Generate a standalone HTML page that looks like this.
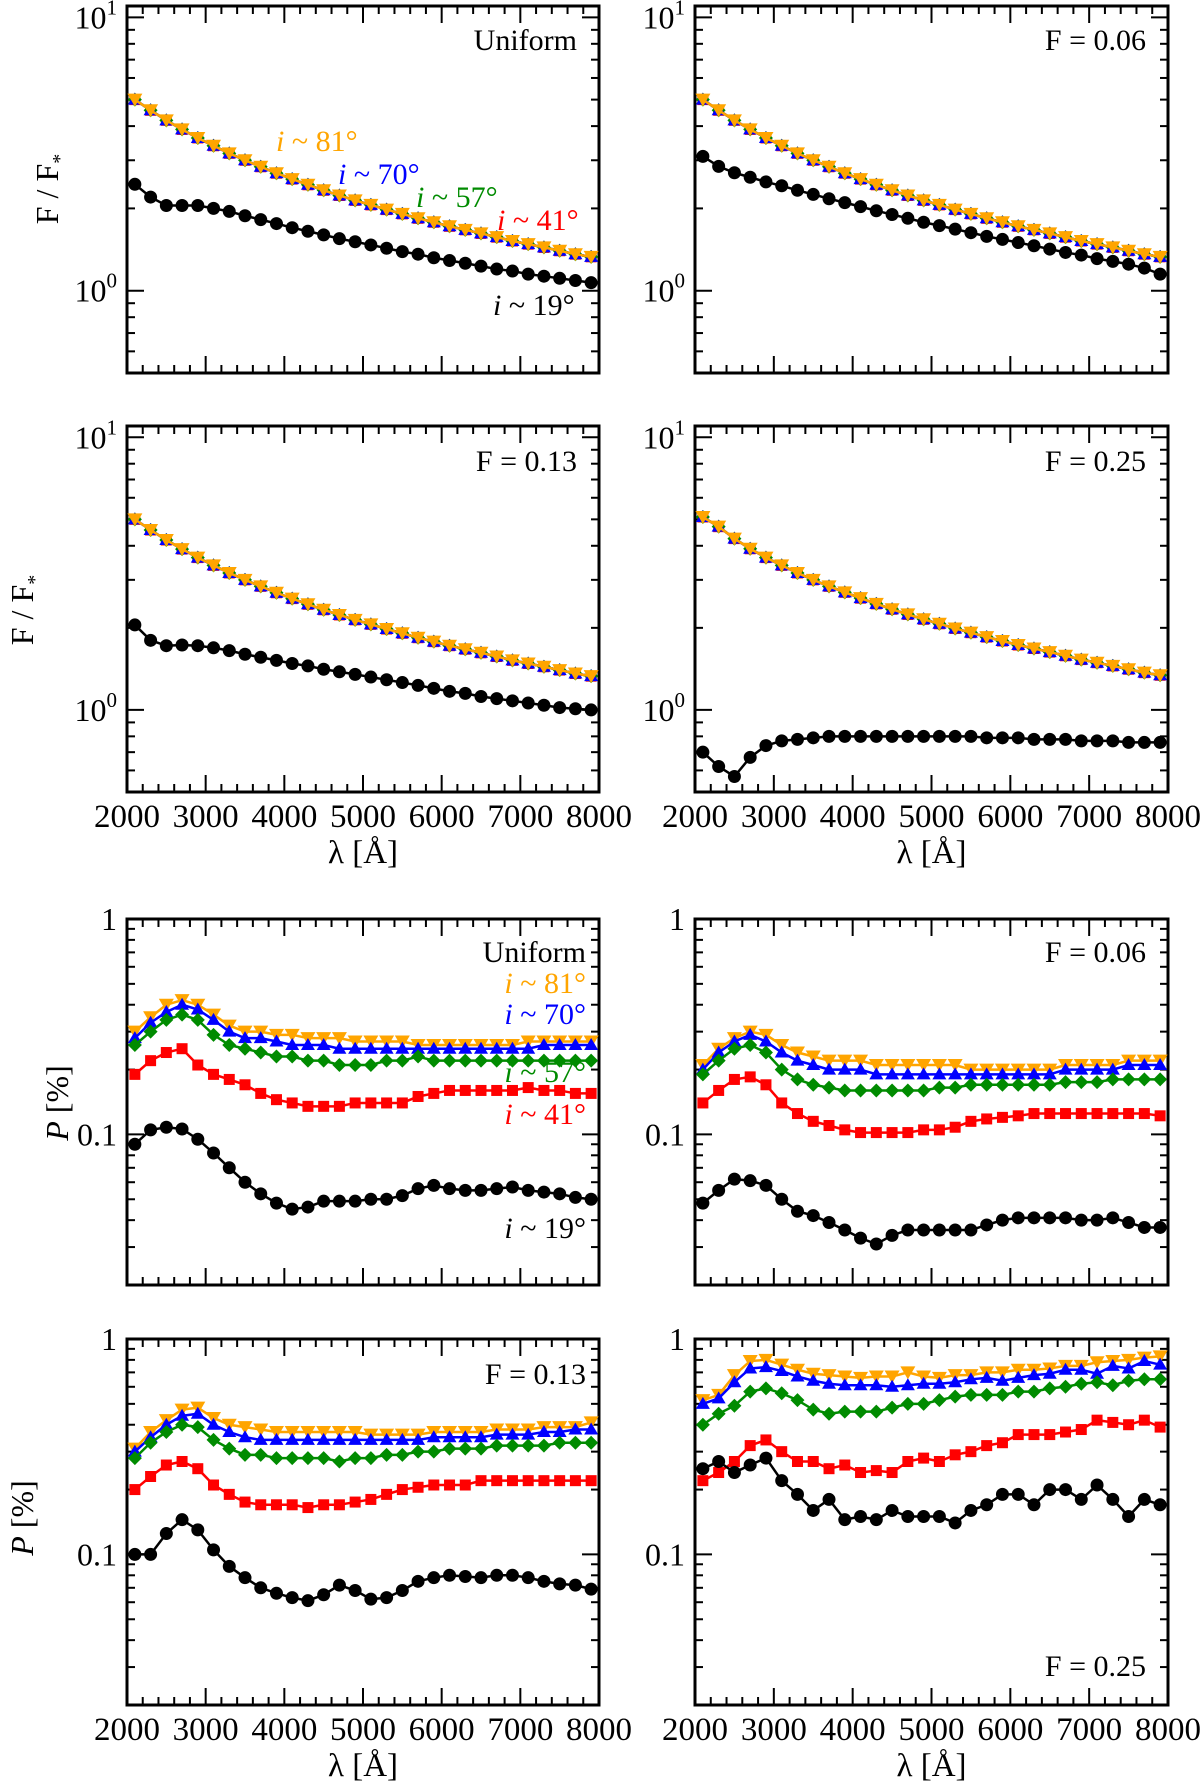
<!DOCTYPE html>
<html><head><meta charset="utf-8"><style>
html,body{margin:0;padding:0;background:#fff}
svg{display:block}
svg text{font-family:"Liberation Serif","Times New Roman",serif;}
</style></head><body>
<svg id="fig" width="1200" height="1786" viewBox="0 0 1200 1786" font-family="Liberation Serif, Times New Roman, serif" xmlns="http://www.w3.org/2000/svg"></svg>
<script>
const wavelengths=[2100,2300,2500,2700,2900,3100,3300,3500,3700,3900,4100,4300,4500,4700,4900,5100,5300,5500,5700,5900,6100,6300,6500,6700,6900,7100,7300,7500,7700,7900];
const xTicks=[2000,3000,4000,5000,6000,7000,8000];
const fluxBase=[5.0,4.57,4.2,3.89,3.62,3.39,3.18,3.0,2.84,2.69,2.56,2.44,2.33,2.23,2.14,2.06,1.98,1.91,1.84,1.78,1.72,1.67,1.62,1.57,1.52,1.48,1.44,1.40,1.36,1.33];
const fluxBase25=[5.1,4.7,4.25,3.9,3.62,3.39,3.18,3.0,2.84,2.7,2.57,2.45,2.34,2.24,2.15,2.07,1.99,1.92,1.85,1.79,1.73,1.68,1.63,1.58,1.53,1.49,1.45,1.41,1.37,1.34];
const fluxUniBlack=[2.45,2.2,2.05,2.05,2.05,2.0,1.95,1.88,1.82,1.76,1.70,1.65,1.60,1.55,1.51,1.47,1.43,1.39,1.36,1.32,1.29,1.26,1.23,1.20,1.18,1.15,1.13,1.11,1.09,1.07];
const flux06Black=[3.1,2.85,2.7,2.6,2.5,2.42,2.33,2.25,2.17,2.1,2.03,1.96,1.9,1.84,1.78,1.73,1.68,1.63,1.58,1.54,1.5,1.46,1.42,1.38,1.35,1.31,1.28,1.25,1.21,1.15];
const flux13Black=[2.05,1.8,1.72,1.73,1.72,1.69,1.65,1.6,1.56,1.52,1.48,1.45,1.41,1.38,1.35,1.32,1.29,1.26,1.23,1.2,1.17,1.15,1.12,1.10,1.08,1.06,1.04,1.02,1.01,1.0];
const flux25Black=[0.7,0.62,0.57,0.67,0.74,0.77,0.78,0.79,0.8,0.8,0.8,0.8,0.8,0.8,0.8,0.8,0.8,0.8,0.79,0.79,0.79,0.78,0.78,0.78,0.77,0.77,0.77,0.76,0.76,0.76];

const polUniOrange=[0.30,0.35,0.40,0.42,0.40,0.36,0.32,0.30,0.30,0.29,0.29,0.28,0.28,0.28,0.27,0.27,0.27,0.27,0.26,0.26,0.26,0.26,0.26,0.26,0.26,0.27,0.27,0.27,0.27,0.27];
const polUniBlue=[0.28,0.33,0.37,0.40,0.38,0.34,0.30,0.28,0.28,0.27,0.26,0.26,0.26,0.25,0.25,0.25,0.25,0.25,0.25,0.25,0.25,0.25,0.25,0.25,0.25,0.25,0.26,0.26,0.26,0.26];
const polUniGreen=[0.26,0.30,0.34,0.36,0.34,0.29,0.26,0.25,0.24,0.23,0.23,0.22,0.22,0.21,0.21,0.21,0.22,0.22,0.23,0.22,0.22,0.22,0.22,0.22,0.22,0.22,0.22,0.22,0.22,0.22];
const polUniRed=[0.19,0.22,0.24,0.25,0.21,0.19,0.18,0.17,0.155,0.145,0.14,0.135,0.135,0.135,0.14,0.14,0.14,0.14,0.15,0.155,0.16,0.16,0.16,0.16,0.16,0.165,0.16,0.16,0.155,0.155];
const polUniBlack=[0.09,0.105,0.108,0.106,0.095,0.082,0.07,0.06,0.053,0.048,0.045,0.046,0.049,0.049,0.049,0.05,0.05,0.052,0.056,0.058,0.056,0.055,0.055,0.056,0.057,0.055,0.054,0.053,0.051,0.05];

const pol06Orange=[0.21,0.25,0.28,0.30,0.29,0.26,0.24,0.23,0.22,0.22,0.22,0.21,0.21,0.21,0.21,0.21,0.21,0.20,0.20,0.20,0.20,0.20,0.20,0.21,0.21,0.21,0.21,0.22,0.22,0.22];
const pol06Blue=[0.20,0.24,0.27,0.29,0.27,0.24,0.22,0.21,0.20,0.20,0.20,0.19,0.19,0.19,0.19,0.19,0.19,0.19,0.19,0.19,0.19,0.19,0.19,0.20,0.20,0.20,0.20,0.21,0.21,0.21];
const pol06Green=[0.19,0.22,0.25,0.26,0.24,0.20,0.18,0.17,0.165,0.16,0.16,0.16,0.16,0.16,0.16,0.165,0.165,0.17,0.17,0.17,0.17,0.17,0.17,0.175,0.175,0.175,0.18,0.18,0.18,0.18];
const pol06Red=[0.14,0.16,0.18,0.185,0.17,0.14,0.125,0.115,0.11,0.105,0.102,0.102,0.102,0.102,0.105,0.105,0.108,0.115,0.118,0.12,0.122,0.125,0.125,0.125,0.125,0.125,0.125,0.125,0.125,0.122];
const pol06Black=[0.048,0.055,0.062,0.061,0.058,0.05,0.044,0.042,0.039,0.036,0.033,0.031,0.034,0.036,0.036,0.036,0.036,0.036,0.038,0.04,0.041,0.041,0.041,0.041,0.04,0.04,0.041,0.039,0.037,0.037];

const pol13Orange=[0.31,0.37,0.42,0.47,0.48,0.43,0.40,0.39,0.38,0.37,0.37,0.37,0.37,0.37,0.37,0.36,0.36,0.36,0.36,0.37,0.37,0.37,0.37,0.38,0.38,0.38,0.39,0.39,0.39,0.41];
const pol13Blue=[0.30,0.35,0.40,0.44,0.45,0.40,0.37,0.35,0.34,0.34,0.34,0.34,0.34,0.34,0.34,0.34,0.34,0.34,0.34,0.35,0.35,0.35,0.35,0.36,0.36,0.36,0.37,0.37,0.38,0.38];
const pol13Green=[0.28,0.33,0.37,0.40,0.39,0.34,0.31,0.29,0.29,0.28,0.28,0.28,0.28,0.27,0.28,0.28,0.29,0.29,0.30,0.30,0.31,0.31,0.31,0.32,0.32,0.32,0.32,0.33,0.33,0.33];
const pol13Red=[0.20,0.23,0.26,0.27,0.25,0.21,0.19,0.175,0.17,0.17,0.17,0.165,0.17,0.17,0.175,0.18,0.19,0.20,0.205,0.21,0.21,0.21,0.22,0.22,0.22,0.22,0.22,0.22,0.22,0.22];
const pol13Black=[0.10,0.10,0.125,0.145,0.13,0.105,0.088,0.078,0.07,0.066,0.063,0.061,0.065,0.072,0.068,0.062,0.063,0.068,0.075,0.078,0.08,0.079,0.078,0.08,0.08,0.078,0.075,0.073,0.072,0.069];

const pol25Orange=[0.52,0.55,0.68,0.79,0.80,0.76,0.72,0.69,0.68,0.67,0.66,0.67,0.67,0.70,0.67,0.66,0.68,0.68,0.70,0.70,0.72,0.72,0.73,0.75,0.75,0.78,0.79,0.80,0.82,0.83];
const pol25Blue=[0.50,0.53,0.63,0.73,0.74,0.71,0.67,0.64,0.62,0.61,0.61,0.61,0.60,0.61,0.62,0.62,0.63,0.65,0.66,0.64,0.66,0.68,0.69,0.72,0.72,0.69,0.75,0.73,0.79,0.76];
const pol25Green=[0.40,0.45,0.49,0.57,0.59,0.56,0.52,0.47,0.45,0.46,0.46,0.46,0.48,0.50,0.50,0.52,0.54,0.55,0.55,0.55,0.57,0.57,0.59,0.60,0.62,0.63,0.61,0.64,0.65,0.65];
const pol25Red=[0.22,0.24,0.27,0.32,0.34,0.30,0.27,0.27,0.25,0.26,0.24,0.245,0.24,0.27,0.28,0.27,0.29,0.30,0.32,0.33,0.36,0.36,0.36,0.37,0.38,0.42,0.41,0.40,0.42,0.39];
const pol25Black=[0.25,0.27,0.24,0.26,0.28,0.22,0.19,0.16,0.18,0.145,0.15,0.145,0.16,0.15,0.15,0.15,0.14,0.16,0.17,0.19,0.19,0.17,0.20,0.20,0.18,0.21,0.18,0.15,0.18,0.17];

const NS="http://www.w3.org/2000/svg";
const svg=document.getElementById('fig');
function el(tag,attrs,parent){const e=document.createElementNS(NS,tag);for(const k in attrs)e.setAttribute(k,attrs[k]);(parent||svg).appendChild(e);return e;}
const COL={orange:'#ffa500',blue:'#0000ff',green:'#008b00',red:'#ff0000',black:'#000000'};

function panel(o){
  const g=el('g',{});
  
  
  const L=o.x0,R=o.x1,T=o.y0,B=o.y1;
  const lmin=Math.log10(o.ymin),lmax=Math.log10(o.ymax);
  const X=v=>L+(v-2000)/6000*(R-L);
  const Y=v=>B-(Math.log10(v)-lmin)/(lmax-lmin)*(B-T);
  for(let v=2000;v<=8000;v+=200){
    const major=v%1000===0;const len=major?17:8;
    el('line',{x1:X(v),x2:X(v),y1:B,y2:B-len,stroke:'#000','stroke-width':2},g);
    el('line',{x1:X(v),x2:X(v),y1:T,y2:T+len,stroke:'#000','stroke-width':2},g);
  }
  for(let d=Math.floor(lmin);d<=Math.ceil(lmax);d++){
    for(let m=1;m<=9;m++){
      const v=m*Math.pow(10,d);
      if(v<o.ymin*0.999||v>o.ymax*1.001)continue;
      const len=m===1?17:8;
      el('line',{x1:L,x2:L+len,y1:Y(v),y2:Y(v),stroke:'#000','stroke-width':2},g);
      el('line',{x1:R,x2:R-len,y1:Y(v),y2:Y(v),stroke:'#000','stroke-width':2},g);
    }
  }
  el('rect',{x:L,y:T,width:R-L,height:B-T,fill:'none',stroke:'#000','stroke-width':3},g);
  o.yLabels.forEach(t=>{
    const tx=el('text',{x:L-10,y:Y(t.v)+11,'text-anchor':'end','font-size':32},g);
    
    
    if(t.sup!==undefined){tx.textContent='10';const s=el('tspan',{dy:-14,'font-size':21},tx);s.textContent=t.sup;}
    else tx.textContent=t.text;
  });
  if(o.showX){
    xTicks.forEach(v=>{
      const tx=el('text',{x:X(v),y:B+35,'text-anchor':'middle','font-size':33},g);
      
      
      tx.textContent=v;
    });
    const xl=el('text',{x:(L+R)/2,y:B+71,'text-anchor':'middle','font-size':33},g);
    
    
    xl.textContent='λ [Å]';
  }
  o.series.forEach(s=>{
    const sg=el('g',{},g);
    
    
    const pts=wavelengths.map((w,i)=>[X(w),Y(s.d[i])]);
    el('polyline',{points:pts.map(p=>p.join(',')).join(' '),fill:'none',stroke:COL[s.c],'stroke-width':2.5},sg);
    pts.forEach(([x,y])=>{
      let m;
      if(s.c==='black')m=el('circle',{cx:x,cy:y,r:6.5,fill:'#000'},sg);
      else if(s.c==='red')m=el('rect',{x:x-5.5,y:y-5.5,width:11,height:11,fill:COL.red},sg);
      else if(s.c==='green')m=el('polygon',{points:`${x},${y-7} ${x+7},${y} ${x},${y+7} ${x-7},${y}`,fill:COL.green},sg);
      else if(s.c==='blue')m=el('polygon',{points:`${x},${y-7} ${x+7},${y+5} ${x-7},${y+5}`,fill:COL.blue},sg);
      else m=el('polygon',{points:`${x-7.5},${y-6} ${x+7.5},${y-6} ${x},${y+7}`,fill:COL.orange},sg);
      
      
    });
  });
  return {X,Y,g};
}
function txt(x,y,s,anchor,color,name,size){
  const t=el('text',{x:x,y:y,'text-anchor':anchor||'end','font-size':size||30,fill:color||'#000'});
  
  
  t.innerHTML=s;return t;
}
function ilab(x,y,deg,color,anchor){
  return txt(x,y,`<tspan font-style="italic">i</tspan> ~ ${deg}°`,anchor||'start',color,'inclination-label-'+deg);
}
function ylab(cx,cy,html,name){
  const t=el('text',{x:0,y:0,'text-anchor':'middle','font-size':32,transform:`translate(${cx},${cy}) rotate(-90)`});
  
  
  t.innerHTML=html;
}
const fluxY=[{v:10,sup:'1'},{v:1,sup:'0'}];
const polY=[{v:1,text:'1'},{v:0.1,text:'0.1'}];
const C1=[127,599],C2=[695,1168];
const R1=[6,373],R2=[426,792],R3=[919,1285],R4=[1339,1705];
function fl(base,black){return [{c:'red',d:base},{c:'green',d:base},{c:'blue',d:base},{c:'orange',d:base},{c:'black',d:black}];}
panel({name:'flux-panel-uniform',x0:C1[0],x1:C1[1],y0:R1[0],y1:R1[1],ymin:0.5,ymax:11,yLabels:fluxY,showX:false,series:fl(fluxBase,fluxUniBlack)});
panel({name:'flux-panel-f006',x0:C2[0],x1:C2[1],y0:R1[0],y1:R1[1],ymin:0.5,ymax:11,yLabels:fluxY,showX:false,series:fl(fluxBase,flux06Black)});
panel({name:'flux-panel-f013',x0:C1[0],x1:C1[1],y0:R2[0],y1:R2[1],ymin:0.5,ymax:11,yLabels:fluxY,showX:true,series:fl(fluxBase,flux13Black)});
panel({name:'flux-panel-f025',x0:C2[0],x1:C2[1],y0:R2[0],y1:R2[1],ymin:0.5,ymax:11,yLabels:fluxY,showX:true,series:fl(fluxBase25,flux25Black)});
function pl(o,b,g,r,k){return [{c:'orange',d:o},{c:'blue',d:b},{c:'green',d:g},{c:'red',d:r},{c:'black',d:k}];}
panel({name:'pol-panel-uniform',x0:C1[0],x1:C1[1],y0:R3[0],y1:R3[1],ymin:0.02,ymax:1,yLabels:polY,showX:false,series:pl(polUniOrange,polUniBlue,polUniGreen,polUniRed,polUniBlack)});
panel({name:'pol-panel-f006',x0:C2[0],x1:C2[1],y0:R3[0],y1:R3[1],ymin:0.02,ymax:1,yLabels:polY,showX:false,series:pl(pol06Orange,pol06Blue,pol06Green,pol06Red,pol06Black)});
panel({name:'pol-panel-f013',x0:C1[0],x1:C1[1],y0:R4[0],y1:R4[1],ymin:0.02,ymax:1,yLabels:polY,showX:true,series:pl(pol13Orange,pol13Blue,pol13Green,pol13Red,pol13Black)});
panel({name:'pol-panel-f025',x0:C2[0],x1:C2[1],y0:R4[0],y1:R4[1],ymin:0.02,ymax:1,yLabels:polY,showX:true,series:pl(pol25Orange,pol25Blue,pol25Green,pol25Red,pol25Black)});

txt(577,50,'Uniform','end','#000','panel-title-uniform');
txt(1146,50,'F = 0.06','end','#000','panel-title-f006');
txt(577,471,'F = 0.13','end','#000','panel-title-f013');
txt(1146,471,'F = 0.25','end','#000','panel-title-f025');
txt(586,962,'Uniform','end','#000','panel-title-pol-uniform');
txt(1146,962,'F = 0.06','end','#000','panel-title-pol-f006');
txt(586,1384,'F = 0.13','end','#000','panel-title-pol-f013');
txt(1146,1676,'F = 0.25','end','#000','panel-title-pol-f025');

ilab(276,151,81,COL.orange);
ilab(338,184,70,COL.blue);
ilab(416,207,57,COL.green);
ilab(497,230,41,COL.red);
ilab(493,315,19,'#000');
ilab(586,993,81,COL.orange,'end');
ilab(586,1024,70,COL.blue,'end');
ilab(586,1082,57,COL.green,'end');
ilab(586,1124,41,COL.red,'end');
ilab(586,1238,19,'#000','end');

ylab(58,189,'F / F<tspan dy="8" font-size="20">*</tspan>','y-axis-title-flux-top');
ylab(33,610,'F / F<tspan dy="8" font-size="20">*</tspan>','y-axis-title-flux-bottom');
ylab(68,1103,'<tspan font-style="italic">P</tspan> [%]','y-axis-title-pol-top');
ylab(33,1518,'<tspan font-style="italic">P</tspan> [%]','y-axis-title-pol-bottom');
</script>
</body></html>
